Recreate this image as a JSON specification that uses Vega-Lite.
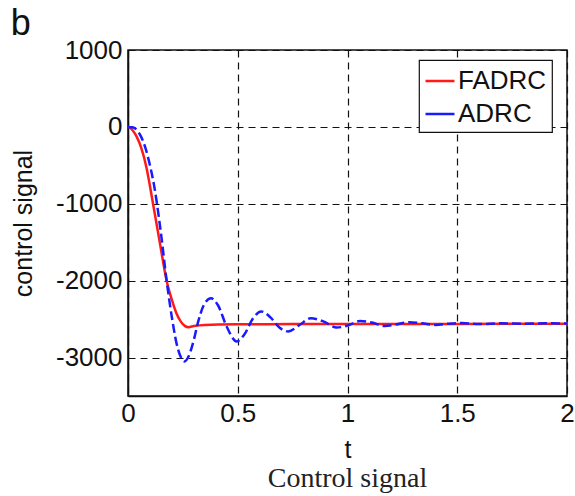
{
  "$schema": "https://vega.github.io/schema/vega-lite/v6.json",
  "autosize": {"type": "pad"},
  "padding": {"left": 10, "top": 6, "right": 0, "bottom": 0},
  "background": "white",
  "title": {"text": "b", "anchor": "start", "font": "Liberation Sans", "fontSize": 36, "fontWeight": "normal", "color": "#111", "offset": -7, "dx": 0},
  "datasets": {
    "fadrc": [
      {"t": 0, "v": 0, "s": "FADRC"},
      {"t": 0.01, "v": -10, "s": "FADRC"},
      {"t": 0.02, "v": -40, "s": "FADRC"},
      {"t": 0.04, "v": -130, "s": "FADRC"},
      {"t": 0.06, "v": -270, "s": "FADRC"},
      {"t": 0.085, "v": -540, "s": "FADRC"},
      {"t": 0.1, "v": -770, "s": "FADRC"},
      {"t": 0.114, "v": -1000, "s": "FADRC"},
      {"t": 0.13, "v": -1260, "s": "FADRC"},
      {"t": 0.15, "v": -1590, "s": "FADRC"},
      {"t": 0.176, "v": -2000, "s": "FADRC"},
      {"t": 0.2, "v": -2250, "s": "FADRC"},
      {"t": 0.22, "v": -2420, "s": "FADRC"},
      {"t": 0.24, "v": -2530, "s": "FADRC"},
      {"t": 0.26, "v": -2592, "s": "FADRC"},
      {"t": 0.275, "v": -2605, "s": "FADRC"},
      {"t": 0.3, "v": -2590, "s": "FADRC"},
      {"t": 0.35, "v": -2575, "s": "FADRC"},
      {"t": 0.5, "v": -2568, "s": "FADRC"},
      {"t": 0.75, "v": -2565, "s": "FADRC"},
      {"t": 1.0, "v": -2563, "s": "FADRC"},
      {"t": 1.5, "v": -2562, "s": "FADRC"},
      {"t": 2.0, "v": -2560, "s": "FADRC"}
    ],
    "adrc": [
      {"t": 0, "v": 0, "s": "ADRC"},
      {"t": 0.02, "v": -5, "s": "ADRC"},
      {"t": 0.04, "v": -40, "s": "ADRC"},
      {"t": 0.06, "v": -130, "s": "ADRC"},
      {"t": 0.08, "v": -280, "s": "ADRC"},
      {"t": 0.1, "v": -500, "s": "ADRC"},
      {"t": 0.12, "v": -780, "s": "ADRC"},
      {"t": 0.132, "v": -1000, "s": "ADRC"},
      {"t": 0.15, "v": -1380, "s": "ADRC"},
      {"t": 0.176, "v": -2000, "s": "ADRC"},
      {"t": 0.2, "v": -2480, "s": "ADRC"},
      {"t": 0.22, "v": -2800, "s": "ADRC"},
      {"t": 0.24, "v": -2990, "s": "ADRC"},
      {"t": 0.258, "v": -3050, "s": "ADRC"},
      {"t": 0.275, "v": -2990, "s": "ADRC"},
      {"t": 0.3, "v": -2770, "s": "ADRC"},
      {"t": 0.32, "v": -2530, "s": "ADRC"},
      {"t": 0.345, "v": -2320, "s": "ADRC"},
      {"t": 0.378, "v": -2230, "s": "ADRC"},
      {"t": 0.41, "v": -2320, "s": "ADRC"},
      {"t": 0.45, "v": -2600, "s": "ADRC"},
      {"t": 0.495, "v": -2790, "s": "ADRC"},
      {"t": 0.53, "v": -2700, "s": "ADRC"},
      {"t": 0.57, "v": -2490, "s": "ADRC"},
      {"t": 0.606, "v": -2400, "s": "ADRC"},
      {"t": 0.65, "v": -2480, "s": "ADRC"},
      {"t": 0.69, "v": -2610, "s": "ADRC"},
      {"t": 0.73, "v": -2660, "s": "ADRC"},
      {"t": 0.78, "v": -2580, "s": "ADRC"},
      {"t": 0.832, "v": -2490, "s": "ADRC"},
      {"t": 0.89, "v": -2530, "s": "ADRC"},
      {"t": 0.95, "v": -2610, "s": "ADRC"},
      {"t": 1.0, "v": -2585, "s": "ADRC"},
      {"t": 1.057, "v": -2525, "s": "ADRC"},
      {"t": 1.11, "v": -2545, "s": "ADRC"},
      {"t": 1.17, "v": -2590, "s": "ADRC"},
      {"t": 1.22, "v": -2570, "s": "ADRC"},
      {"t": 1.28, "v": -2540, "s": "ADRC"},
      {"t": 1.34, "v": -2555, "s": "ADRC"},
      {"t": 1.4, "v": -2575, "s": "ADRC"},
      {"t": 1.46, "v": -2560, "s": "ADRC"},
      {"t": 1.52, "v": -2550, "s": "ADRC"},
      {"t": 1.6, "v": -2565, "s": "ADRC"},
      {"t": 1.7, "v": -2555, "s": "ADRC"},
      {"t": 1.8, "v": -2560, "s": "ADRC"},
      {"t": 1.9, "v": -2555, "s": "ADRC"},
      {"t": 2.0, "v": -2558, "s": "ADRC"}
    ]
  },
  "vconcat": [
    {
      "width": 439,
      "height": 346,
      "title": {"text": "Control signal", "orient": "bottom", "anchor": "middle", "frame": "group", "font": "Liberation Serif", "fontSize": 28, "fontWeight": "normal", "color": "#222", "offset": 3},
      "encoding": {
        "x": {"field": "t", "type": "quantitative", "scale": {"domain": [0, 2], "nice": false, "zero": false},
              "axis": {"title": "t", "values": [0, 0.5, 1, 1.5, 2], "labelExpr": "'' + datum.value", "labelFlush": false, "labelPadding": 4, "titlePadding": 11, "titleFontSize": 25}},
        "y": {"field": "v", "type": "quantitative", "scale": {"domain": [-3500, 1000], "nice": false, "zero": false},
              "axis": {"title": "control signal", "values": [-3000, -2000, -1000, 0, 1000], "labelExpr": "'' + datum.value", "labelPadding": 6, "titlePadding": 19, "titleFontSize": 25}},
        "color": {"field": "s", "type": "nominal",
                  "scale": {"domain": ["FADRC", "ADRC"], "range": ["#ff1a1a", "#1a1aff"]},
                  "legend": {"title": null, "orient": "none", "legendX": 291, "legendY": 10}}
      },
      "layer": [
        {"data": {"name": "fadrc"}, "mark": {"type": "line", "interpolate": "monotone", "strokeWidth": 2.5}},
        {"data": {"name": "adrc"}, "mark": {"type": "line", "interpolate": "monotone", "strokeWidth": 2.5, "strokeDash": [9, 4]}}
      ]
    }
  ],
  "config": {
    "view": {"stroke": "#111", "strokeWidth": 1.5},
    "axis": {
      "labelFont": "Liberation Sans", "labelFontSize": 26, "labelColor": "#111",
      "titleFont": "Liberation Sans", "titleFontWeight": "normal", "titleColor": "#111",
      "grid": true, "gridColor": "#111", "gridDash": [7, 5], "gridWidth": 1.2, "gridOpacity": 1,
      "ticks": false, "domainColor": "#111", "domainWidth": 1.5
    },
    "legend": {
      "fillColor": "white", "strokeColor": "#111", "strokeWidth": 1.2, "padding": 5, "rowPadding": 4,
      "symbolType": "stroke", "symbolSize": 841, "symbolStrokeWidth": 2.5, "symbolDash": [1, 0],
      "labelFont": "Liberation Sans", "labelFontSize": 26, "labelColor": "#111", "labelOffset": 2, "cornerRadius": 0
    }
  }
}
